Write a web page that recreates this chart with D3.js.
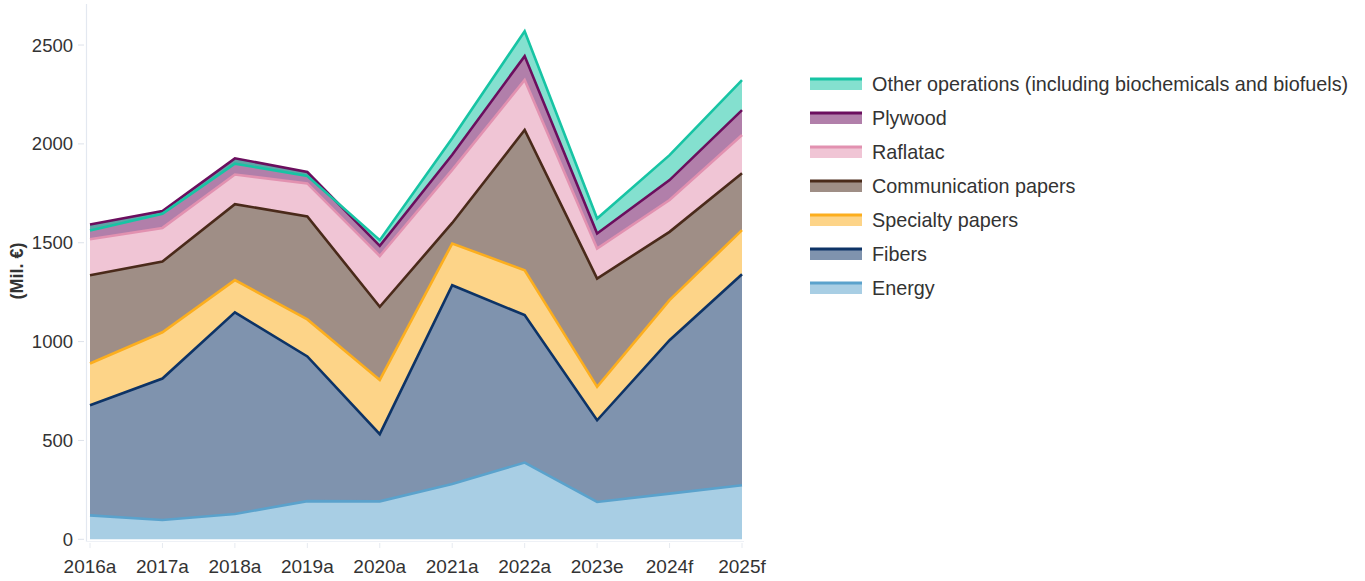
<!DOCTYPE html>
<html>
<head>
<meta charset="utf-8">
<script src="https://cdn.jsdelivr.net/npm/d3@7"></script>
<style>
  html, body { margin: 0; padding: 0; background: #fff; }
  svg { display: block; font-family: "Liberation Sans", Arial, sans-serif; }
</style>
</head>
<body>
<svg id="chart" width="1365" height="581"></svg>
<script>
// Years on the x axis
const years = ["2016a", "2017a", "2018a", "2019a", "2020a", "2021a", "2022a", "2023e", "2024f", "2025f"];

// Segment values, Mil. €
const energy        = [121,  98, 128, 193, 192, 280, 388, 189, 231, 273];
const fibers        = [557, 715, 1020, 732, 340, 1005, 746, 413, 776, 1068];
const specialty     = [211, 234, 163, 187, 274, 211, 227, 169, 203, 223];
const communication = [447, 358, 384, 521, 370, 104, 709, 548, 345, 287];
const raflatac      = [182, 170, 150, 167, 257, 269, 253, 152, 161, 194];
const plywood       = [ 74,  85,  82,  58,  51,  76, 121,  76, 101, 126];
const other         = [-30, -13, -27, -20,  29,  84, 126,  76, 126, 152];

// Y axis ticks
const yTicks = [0, 500, 1000, 1500, 2000, 2500];

// Series in stacking order (bottom first)
const seriesNames = ["Energy", "Fibers", "Specialty papers", "Communication papers",
                     "Raflatac", "Plywood", "Other operations (including biochemicals and biofuels)"];
const seriesValues = [energy, fibers, specialty, communication, raflatac, plywood, other];
const seriesColors = ["#5aa2cc", "#0d3366", "#fcae1e", "#4a2a1a", "#e291b0", "#6b0e5e", "#17c4a4"];

const table = years.map((yr, i) => {
  const row = { year: yr };
  seriesNames.forEach((n, k) => { row[n] = seriesValues[k][i]; });
  return row;
});

const svg = d3.select("#chart");

const x = d3.scalePoint().domain(years).range([90, 742]);
const y = d3.scaleLinear().domain([0, 2700]).range([539.3, 5.5]);

const stack = d3.stack()
  .keys(seriesNames)
  .order(d3.stackOrderNone)
  .offset(d3.stackOffsetNone);
const layers = stack(table);

const area = d3.area()
  .x(d => x(d.data.year))
  .y0(d => y(d[0]))
  .y1(d => y(d[1]));
const line = d3.line()
  .x(d => x(d.data.year))
  .y(d => y(d[1]));

// Axis lines and ticks
const axisColor = "#e3e8f0";
svg.append("line")
  .attr("x1", 86.5).attr("x2", 86.5)
  .attr("y1", 4).attr("y2", 542)
  .attr("stroke", axisColor).attr("stroke-width", 1.2);
svg.append("line")
  .attr("x1", 86).attr("x2", 744)
  .attr("y1", 541.5).attr("y2", 541.5)
  .attr("stroke", "#eef1f6").attr("stroke-width", 1.2);

const yAxis = svg.append("g").attr("class", "y-axis");
yAxis.selectAll("line.tick")
  .data(yTicks).join("line")
  .attr("class", "tick")
  .attr("x1", 78).attr("x2", 84)
  .attr("y1", d => y(d)).attr("y2", d => y(d))
  .attr("stroke", "#dde2ea").attr("stroke-width", 1);
yAxis.selectAll("text")
  .data(yTicks).join("text")
  .attr("x", 73)
  .attr("y", d => y(d))
  .attr("dy", "0.35em")
  .attr("text-anchor", "end")
  .attr("font-size", 18.5)
  .attr("fill", "#333")
  .text(d => d);

const xAxis = svg.append("g").attr("class", "x-axis");
xAxis.selectAll("line")
  .data(years).join("line")
  .attr("x1", d => x(d)).attr("x2", d => x(d))
  .attr("y1", 543).attr("y2", 548)
  .attr("stroke", "#e6eaf0").attr("stroke-width", 1);
xAxis.selectAll("text")
  .data(years).join("text")
  .attr("x", d => x(d))
  .attr("y", 573)
  .attr("text-anchor", "middle")
  .attr("font-size", 19)
  .attr("fill", "#333")
  .text(d => d);

// Y axis title
svg.append("text")
  .attr("transform", "translate(23,271) rotate(-90)")
  .attr("text-anchor", "middle")
  .attr("font-size", 18)
  .attr("font-weight", "bold")
  .attr("fill", "#333")
  .text("(Mil. €)");

// Stacked area fills first, then every outline on top of them
const g = svg.append("g");
g.selectAll("path.area")
  .data(layers).join("path")
  .attr("class", "area")
  .attr("d", area)
  .attr("fill", (d, k) => seriesColors[k])
  .attr("fill-opacity", 0.53)
  .attr("stroke", "none");
g.selectAll("path.outline")
  .data(layers).join("path")
  .attr("class", "outline")
  .attr("d", line)
  .attr("fill", "none")
  .attr("stroke", (d, k) => seriesColors[k])
  .attr("stroke-width", 2.6)
  .attr("stroke-linejoin", "miter");

// Legend, top series first
const legendOrder = seriesNames.map((n, k) => k).reverse();
const legend = svg.append("g").attr("class", "legend");
legendOrder.forEach((k, i) => {
  const cy = 84 + i * 34;
  const item = legend.append("g");
  item.append("rect")
    .attr("x", 810).attr("y", cy - 6)
    .attr("width", 52).attr("height", 12)
    .attr("fill", seriesColors[k]).attr("fill-opacity", 0.53);
  item.append("line")
    .attr("x1", 810).attr("x2", 862)
    .attr("y1", cy - 5).attr("y2", cy - 5)
    .attr("stroke", seriesColors[k]).attr("stroke-width", 3);
  item.append("text")
    .attr("x", 872).attr("y", cy)
    .attr("dy", "0.35em")
    .attr("font-size", 19.8)
    .attr("fill", "#333")
    .text(seriesNames[k]);
});
</script>
</body>
</html>
